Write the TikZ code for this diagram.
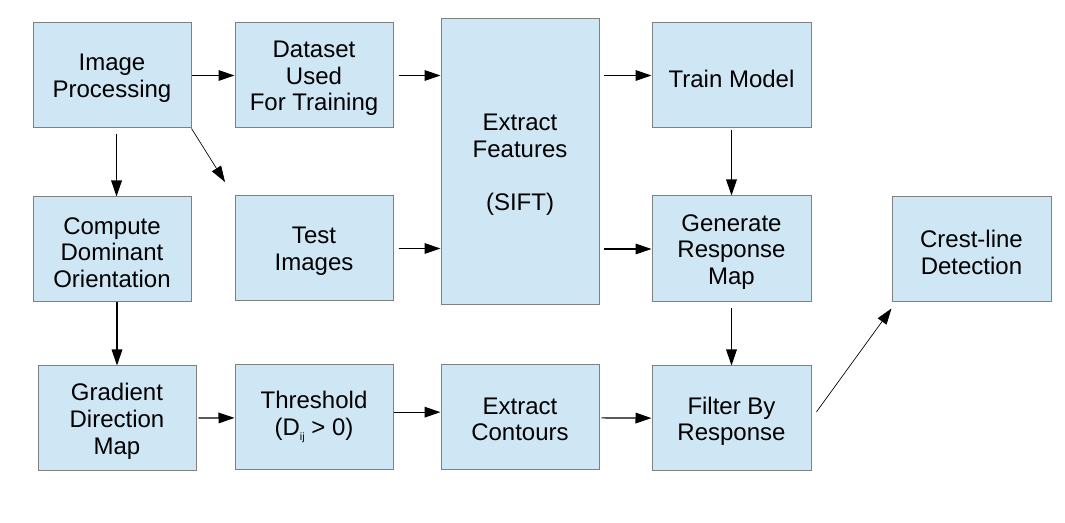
\documentclass[tikz,border=0pt]{standalone}
\usepackage{fontspec}
\setmainfont{Liberation Sans}
\usetikzlibrary{arrows.meta}
\definecolor{boxfill}{HTML}{CFE7F5}
\definecolor{boxline}{HTML}{808080}
\tikzset{
  box/.style={draw=boxline, fill=boxfill, line width=0.75pt, inner sep=0pt},
  txt/.style={align=center, inner sep=0pt, font=\fontsize{18}{20}\selectfont},
  arr/.style={line width=0.9pt, -{Triangle[length=12pt,width=8pt]}},
  thinarr/.style={line width=0.5pt, -{Triangle[length=12pt,width=8pt]}}
}
\newcommand\bx[7]{\node[box, minimum width={(#3-#1)*0.75pt}, minimum height={(#4-#2)*0.75pt}] (#5) at ({(#1+#3)/2},{(#2+#4)/2}) {};
  \node[txt] (#5t) at ([yshift=#6]#5.center) {#7};}
\begin{document}
\begin{tikzpicture}[x=0.75pt,y=-0.75pt]
\fill[white] (0,0) rectangle (1065,523);
\useasboundingbox (0,0) rectangle (1065,523);
\bx{33}{23}{191}{128}{ip}{-2.2pt}{Image\\Processing}
\bx{235}{23}{393}{128}{ds}{-2.2pt}{Dataset\\Used\\For Training}
\bx{441}{19}{599}{305}{ef}{-2.2pt}{Extract\\Features\\[20pt](SIFT)}
\bx{652}{23}{811}{128}{tm}{-2.2pt}{Train Model}
\bx{33}{197}{191}{302}{cd}{-2.2pt}{Compute\\Dominant\\Orientation}
\bx{235}{196}{393}{301}{ti}{-2.2pt}{Test\\Images}
\bx{652}{196}{811}{302}{gr}{-2.2pt}{Generate\\Response\\Map}
\bx{892}{197}{1051}{302}{cl}{-2.2pt}{Crest-line\\Detection}
\bx{38}{366}{196}{471}{gd}{-2.2pt}{Gradient\\Direction\\Map}
\bx{235}{365}{393}{470}{th}{0.5pt}{Threshold\\(D\raisebox{-4pt}{\fontsize{8}{8}\selectfont ij} {>} 0)}
\bx{441}{365}{599}{470}{ec}{-1.5pt}{Extract\\Contours}
\bx{652}{366}{811}{471}{fr}{-2.2pt}{Filter By\\Response}
\coordinate (tiend) at (225,182);
% connectors
\draw[arr] (ip) -- (ds);
\draw[thinarr] (ip.south east) -- (tiend);
\draw[arr, shorten <=4.5pt] ([xshift=3.4pt]ip.south) -- ([xshift=3.4pt]cd.north);
\draw[arr, shorten <=3.75pt] (ds) -- (ef.west |- ds);
\draw[arr, shorten <=3.75pt] (ti) -- (ef.west |- ti);
\draw[arr, shorten <=3pt] (ef.east |- tm) -- (tm);
\draw[arr, shorten <=3pt] (ef.east |- gr) -- (gr);
\draw[arr, shorten <=1.5pt] (tm) -- (gr);
\draw[arr] (cd.south -| gd) -- (gd);
\draw[arr, shorten <=1.5pt] (gd) -- (th);
\draw[arr] ([yshift=4pt]th.east) -- ([yshift=4pt]ec.west);
\draw[arr, shorten <=1.5pt] (ec) -- (fr);
\draw[arr, shorten <=4.5pt] (gr) -- (fr);
\draw[thinarr] ([xshift=3.75pt,yshift=5pt]fr.east) -- ([yshift=-4.5pt]cl.south west);
\end{tikzpicture}
\end{document}
